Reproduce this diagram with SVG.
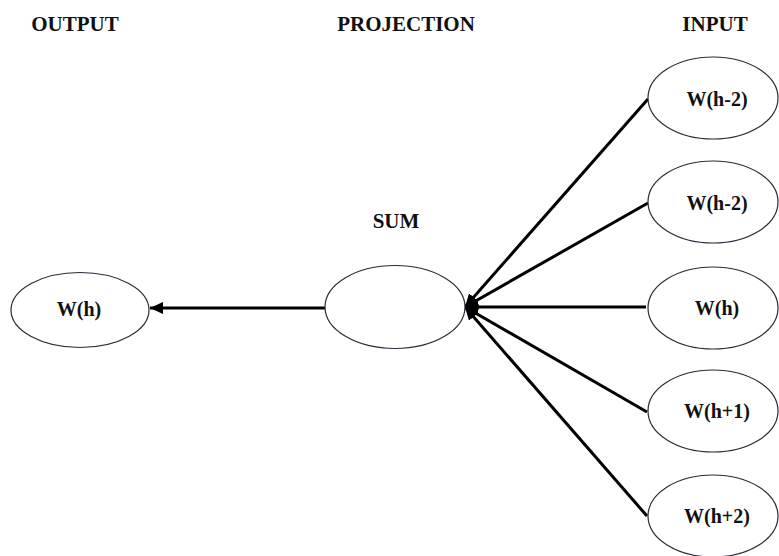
<svg xmlns="http://www.w3.org/2000/svg" width="779" height="556" viewBox="0 0 779 556">
<style>
.t{font-family:"Liberation Serif","Times New Roman",serif;font-weight:bold;fill:#111;text-anchor:middle}
.h{font-size:21px}
.n{font-size:20px}
.e{fill:#fff;stroke:#2a2a3a;stroke-width:1.2}
.c{stroke:#000;stroke-width:3;fill:none;marker-end:url(#ah)}
</style>
<defs>
<marker id="ah" markerUnits="userSpaceOnUse" markerWidth="14" markerHeight="12" refX="13" refY="6" orient="auto">
<path d="M0,0 L13,6 L0,12 z" fill="#000"/>
</marker>
</defs>
<rect width="779" height="556" fill="#fff"/>
<g id="headers">
<text class="t h" x="75" y="31">OUTPUT</text>
<text class="t h" x="406" y="31">PROJECTION</text>
<text class="t h" x="715" y="31">INPUT</text>
</g>
<g id="connectors">
<line class="c" x1="325" y1="308" x2="150" y2="308"/>
<line class="c" x1="648" y1="99" x2="465" y2="307"/>
<line class="c" x1="648" y1="203" x2="465" y2="307"/>
<line class="c" x1="646" y1="307" x2="465" y2="307"/>
<line class="c" x1="647" y1="412" x2="465" y2="307"/>
<line class="c" x1="647" y1="516" x2="465" y2="307"/>
</g>
<g id="out">
<ellipse class="e" cx="80" cy="310" rx="69" ry="37.5"/>
<text class="t n" x="79" y="316">W(h)</text>
</g>
<g id="sum">
<text class="t h" x="396" y="228">SUM</text>
<ellipse class="e" cx="395" cy="307" rx="70" ry="41.5"/>
</g>
<g id="in1">
<ellipse class="e" cx="713" cy="98" rx="65" ry="41"/>
<text class="t n" x="717" y="106">W(h-2)</text>
</g>
<g id="in2">
<ellipse class="e" cx="713" cy="202" rx="65" ry="41"/>
<text class="t n" x="717" y="210">W(h-2)</text>
</g>
<g id="in3">
<ellipse class="e" cx="713" cy="308" rx="65" ry="41"/>
<text class="t n" x="717" y="315">W(h)</text>
</g>
<g id="in4">
<ellipse class="e" cx="713" cy="411" rx="65" ry="41"/>
<text class="t n" x="717" y="418">W(h+1)</text>
</g>
<g id="in5">
<ellipse class="e" cx="713" cy="516" rx="65" ry="41"/>
<text class="t n" x="717" y="523">W(h+2)</text>
</g>
</svg>
